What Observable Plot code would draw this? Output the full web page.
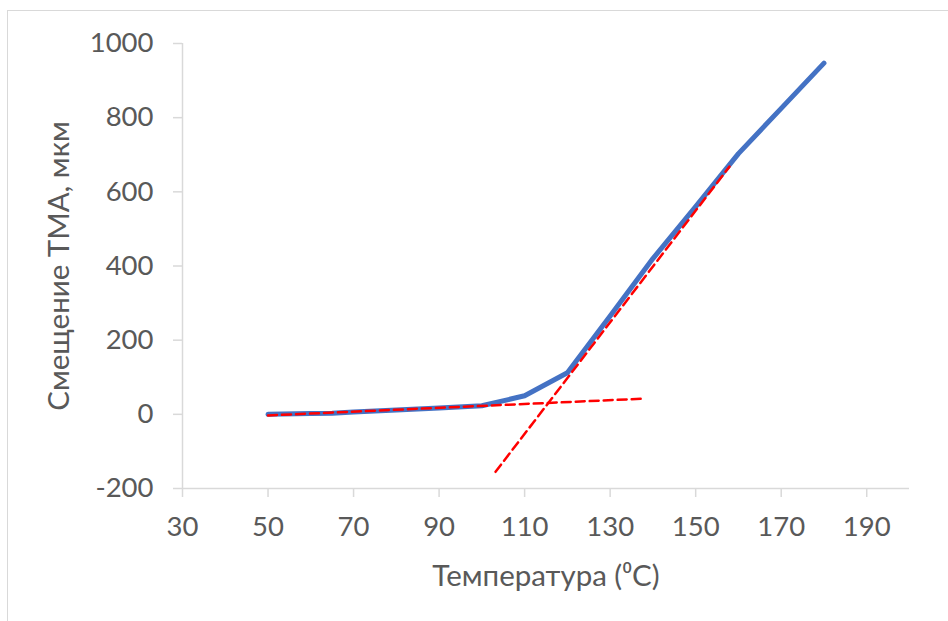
<!DOCTYPE html>
<html>
<head>
<meta charset="utf-8">
<script src="https://cdn.jsdelivr.net/npm/d3@7"></script>
<script src="https://cdn.jsdelivr.net/npm/@observablehq/plot@0.6"></script>
<style>
  html, body { margin: 0; padding: 0; background: #fff; }
  #wrap { position: relative; width: 948px; height: 621px; overflow: hidden; }
  #border { position: absolute; left: 7px; top: 10px; right: -10px; bottom: -10px;
            border-left: 1.5px solid #d9d9d9; border-top: 1.5px solid #d9d9d9; }
  #chart { position: absolute; left: 0; top: 0; }
  svg text { font-family: Lato, "Open Sans", sans-serif; }
</style>
</head>
<body>
<div id="wrap"><div id="border"></div><div id="chart"></div></div>
<script>
// Measured curve (blue)
const temps  = [50, 60, 65, 70, 80, 90, 100, 110, 120, 130, 140, 150, 160, 170, 180];
const shifts = [0, 2, 3, 6, 12, 17, 23, 50, 112, 265, 420, 560, 703, 825, 947];
// Tangent lines (red dashed)
const baseT  = [50, 137.5];
const baseS  = [-3, 42];
const steepT = [103.2, 157.9];
const steepS = [-155, 668];
// Axis ticks
const xTicks = [30, 50, 70, 90, 110, 130, 150, 170, 190];
const yTicks = [-200, 0, 200, 400, 600, 800, 1000];

const curve = temps.map((t, i) => ({t, s: shifts[i]}));
const base = baseT.map((t, i) => ({t, s: baseS[i]}));
const steep = steepT.map((t, i) => ({t, s: steepS[i]}));

const axisColor = "#d9d9d9";
const textColor = "#595959";
const fmt = d => String(d);

const chart = Plot.plot({
  width: 948,
  height: 621,
  marginLeft: 182,
  marginRight: 39,
  marginTop: 43,
  marginBottom: 133,
  style: {fontFamily: "Lato, 'Open Sans', sans-serif", background: "transparent", overflow: "visible"},
  x: {domain: [30, 200]},
  y: {domain: [-200, 1000]},
  marks: [
    Plot.ruleY([-200], {stroke: axisColor, strokeWidth: 1.5}),
    Plot.ruleX([30], {stroke: axisColor, strokeWidth: 1.5}),
    Plot.axisX({
      ticks: xTicks, tickFormat: fmt, tickSize: 9, tickPadding: 19, fontSize: 27.5,
      stroke: axisColor, strokeWidth: 1.5, fill: textColor, label: null
    }),
    Plot.axisX({
      ticks: [], label: "Температура (⁰C)", labelAnchor: "center", labelArrow: "none",
      labelOffset: 97, fontSize: 29.5, fill: textColor, stroke: "none"
    }),
    Plot.axisY({
      ticks: yTicks, tickFormat: fmt, tickSize: 9, tickPadding: 20, fontSize: 27.5,
      stroke: axisColor, strokeWidth: 1.5, fill: textColor, label: null
    }),
    Plot.axisY({
      ticks: [], label: "Смещение ТМА, мкм", labelAnchor: "center", labelArrow: "none",
      labelOffset: 134, fontSize: 29.5, fill: textColor, stroke: "none"
    }),
    Plot.line(curve, {x: "t", y: "s", stroke: "#4472C4", strokeWidth: 5, strokeLinecap: "round", strokeLinejoin: "round"}),
    Plot.line(base, {x: "t", y: "s", stroke: "#FF0000", strokeWidth: 2.5, strokeDasharray: "9,5"}),
    Plot.line(steep, {x: "t", y: "s", stroke: "#FF0000", strokeWidth: 2.5, strokeDasharray: "9,5"})
  ]
});
document.getElementById("chart").appendChild(chart);
</script>
</body>
</html>
